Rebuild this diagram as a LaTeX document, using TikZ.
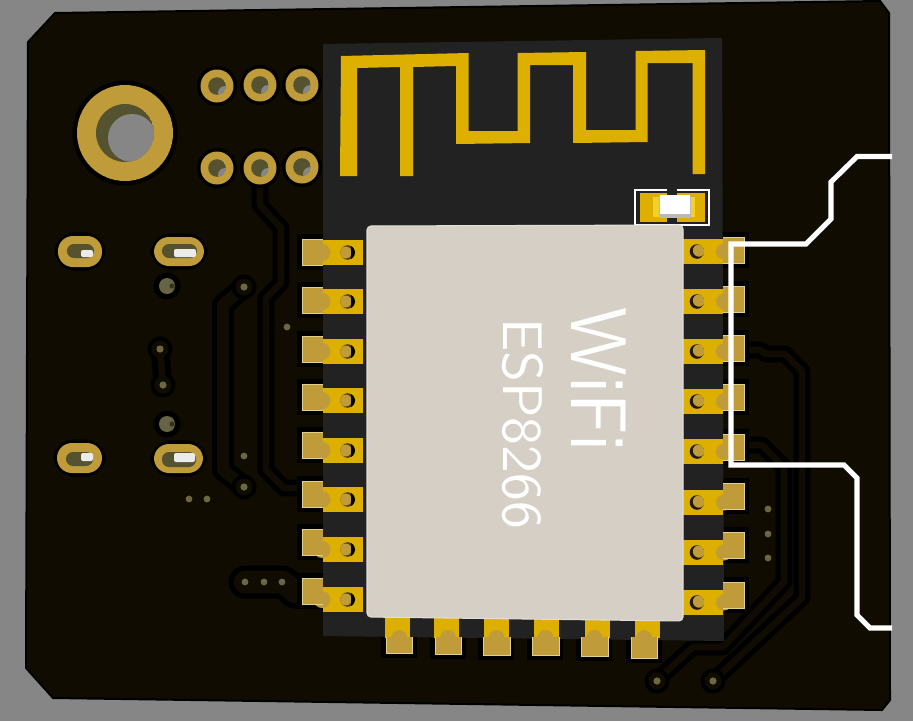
\documentclass[tikz,border=0pt]{standalone}
\usepackage{graphicx}
\definecolor{bgc}{HTML}{868686}
\definecolor{boardc}{HTML}{100C02}
\definecolor{modc}{HTML}{222222}
\definecolor{goldc}{HTML}{BF9B3A}
\definecolor{padedge}{HTML}{E0D090}
\definecolor{yelc}{HTML}{DDB000}
\definecolor{brightyel}{HTML}{F5CE2A}
\definecolor{olivec}{HTML}{55532F}
\definecolor{viac}{HTML}{6B6840}
\definecolor{shieldc}{HTML}{D6CFC6}
\definecolor{darkh}{HTML}{4F3D0C}
\tikzset{
  trc/.style={draw=black,line width=3.75pt,double=boardc,double distance=5pt,line join=round},
  fattrc/.style={draw=black,line width=3.75pt,double=boardc,double distance=9pt,line join=round},
  whitetrack/.style={draw=white,line width=3.8pt,line join=miter},
  padline/.style={draw=padedge,line width=.5pt},
}
% small via with clearance ring
\newcommand{\tinyvia}[2]{\fill[viac] (#1,#2) circle[radius=3.4];}
\newcommand{\ringvia}[2]{\fill[black] (#1,#2) circle[radius=12.5];\fill[boardc] (#1,#2) circle[radius=8.5];\fill[viac] (#1,#2) circle[radius=3.6];}
\newcommand{\bigvia}[2]{\fill[black] (#1,#2) circle[radius=13.5];\fill[olivec!90!white] (#1,#2) circle[radius=8];\fill[black!40!olivec] (#1+5,#2) circle[radius=2.6];}
\newcommand{\thpad}[2]{%
  \fill[black] (#1,#2) circle[radius=20];
  \fill[goldc] (#1,#2) circle[radius=16.5];
  \begin{scope}\clip (#1,#2) circle[radius=8.8];
    \fill[olivec] (#1,#2) circle[radius=8.8];
    \fill[bgc] (#1+8,#2+7) circle[radius=7];
  \end{scope}}
\newcommand{\slotpad}[4]{%
  \draw[black,line width=5.5pt,fill=black,rounded corners=13pt] (#1,#3) rectangle (#2,#4);
  \fill[goldc,rounded corners=11.2pt] (#1,#3) rectangle (#2,#4);}
\newcommand{\slothole}[8]{%
  \fill[olivec,rounded corners=5.2pt] (#1,#3) rectangle (#2,#4);
  \fill[white!92!black,rounded corners=1.5pt] (#5,#7) rectangle (#6,#8);}
\newcommand{\lefthole}[2]{%
  \begin{scope}\clip (#1,#2) circle[radius=7.3];
    \fill[darkh] (#1,#2) circle[radius=7.3];
    \fill[goldc] (#1-2,#2) circle[radius=6];
    \fill[black] (#1+3.6,#2-8) rectangle (#1+8,#2+8);
  \end{scope}}
\newcommand{\righthole}[2]{%
  \begin{scope}\clip (#1,#2) circle[radius=7.3];
    \fill[black!60!darkh] (#1,#2) circle[radius=7.3];
    \fill[goldc] (#1+2,#2-1) circle[radius=6.2];
  \end{scope}}
\begin{document}
\begin{tikzpicture}[x=.75pt,y=-.75pt]
\useasboundingbox (0,0) rectangle (913,721);
\fill[bgc] (0,0) rectangle (913,721);
\begin{scope}
\clip (0,0) rectangle (913,721);
% board
\filldraw[fill=boardc,draw=black,line width=1.5pt,line join=round]
  (55,13) -- (880,1) -- (889,13) -- (890,700) -- (882,710) -- (53,698) -- (26,668) -- (28,42) -- cycle;

% traces
\draw[trc] (260,170) -- (260,205) -- (281,228) -- (281,283) -- (266,298) -- (266,470) -- (284,488) -- (308,488);
\draw[fattrc] (244,287) -- (223,305) -- (223,470) -- (244,487);
\draw[draw=black,line width=24.75pt,line cap=round,line join=round] (245,582) -- (283,582) -- (295,592) -- (308,592);
\draw[draw=boardc,line width=17pt,line cap=round,line join=round] (245,582) -- (283,582) -- (295,592) -- (308,592);
\draw[trc] (745,350) -- (760,350) -- (766,354) -- (785,354) -- (802,371) -- (802,598) -- (713,681);
\draw[trc] (745,445) -- (762,445) -- (784,467) -- (784,582) -- (723,647) -- (693,647) -- (657,680);

% vias
\ringvia{244}{287}
\ringvia{244}{487}
\ringvia{160}{349}
\ringvia{163}{385}
\draw[black,line width=14pt] (160,349) -- (163,385);
\draw[boardc,line width=5pt] (160,349) -- (163,385);
\fill[boardc] (160,349) circle[radius=8.5];
\fill[boardc] (163,385) circle[radius=8.5];
\fill[viac] (160,349) circle[radius=3.6];
\fill[viac] (163,385) circle[radius=3.6];
\ringvia{657}{681}
\ringvia{713}{681}
\bigvia{167}{286}
\bigvia{167}{424}
\tinyvia{287}{327}
\tinyvia{244}{456}
\tinyvia{189}{499}
\tinyvia{207}{499}
\tinyvia{245}{582}
\tinyvia{264}{582}
\tinyvia{282}{582}
\tinyvia{768}{509}
\tinyvia{768}{534}
\tinyvia{768}{558}

% through-hole pads
\fill[black] (125,133) circle[radius=52.5];
\fill[goldc] (125,133) circle[radius=48];
\begin{scope}
  \clip (125,133) circle[radius=29];
  \fill[olivec] (125,133) circle[radius=29];
  \fill[bgc] (132,138) circle[radius=24];
\end{scope}
\thpad{217}{86}\thpad{260}{85}\thpad{302}{85}
\thpad{217}{168}\thpad{260}{168}\thpad{302}{167}

% slots
\slotpad{58}{102}{236}{267}
\slothole{67}{94}{244}{258}{81}{93}{250}{257}
\slotpad{154}{204}{237}{266}
\slothole{162}{197}{244}{258}{174}{196}{249}{257}
\slotpad{57}{102}{443}{473}
\slothole{66}{93}{452}{466}{81}{93}{453}{461}
\slotpad{154}{203}{444}{473}
\slothole{162}{196}{452}{467}{174}{195}{453}{462}

% pad clearance
\foreach \t in {239,287,336,384,432,481,529,578}
  {\fill[black] (297,\t-5) rectangle (330,\t+31);}
\foreach \t in {237,286,335,384,434,483,532,582}
  {\fill[black] (716,\t-5) rectangle (749,\t+31);}
\foreach \l/\b in {386/653,435/654,483/655,532/655,581/656,631/658}
  {\fill[black] (\l-5,630) rectangle (\l+31,\b+5);}

% module
\fill[modc] (323,44) -- (722,38) -- (724,641) -- (323,636) -- cycle;

% antenna
\fill[yelc] (341,56) -- (340,176) -- (357,176) -- (357,68) -- (400,67) -- (400,176) -- (413,176) -- (413,67)
  -- (456,66) -- (456,144) -- (530,143) -- (530,65) -- (573,65) -- (573,143) -- (647.5,142) -- (647.5,63)
  -- (692.5,63) -- (692.5,174) -- (705,174) -- (705,50) -- (635.5,51) -- (635.5,130) -- (586,130) -- (586,52)
  -- (517.5,53) -- (517.5,131) -- (468.6,131) -- (468.6,53) -- cycle;

% LED
\draw[white,line width=1.5pt] (667,189.5) -- (635,189.5) -- (635,225) -- (709,225) -- (709,189.5) -- (677,189.5);
\fill[yelc] (640,193) rectangle (667,222);
\fill[yelc] (677,193) rectangle (705,222);
\fill[brightyel] (653,197) rectangle (659,217);
\fill[brightyel] (691,197) rectangle (695,217);
\fill[gray!55] (659,196) rectangle (691,218);
\fill[white] (660,195) rectangle (690,214);

% left strips
\foreach \t in {240,289,339,388,438,487,537,587}
  {\fill[yelc] (323,\t) rectangle (363,\t+25);}
% left gold pads
\foreach \t/\c in {239/252.5,287/301.5,336/351.5,384/400.5,432/450.5,481/499.5,529/549.5,578/599.5}{
  \fill[goldc] (322,\c) circle[radius=8.5];
  \fill[goldc] (302,\t) rectangle (323,\t+26);
  \draw[padline] (323,\t) -- (302,\t) -- (302,\t+26) -- (323,\t+26);
}
\foreach \c in {252.5,301.5,351.5,400.5,450.5,499.5,549.5,599.5}
  {\lefthole{347.7}{\c}}

% right strips
\foreach \t in {239,289,339,389,439,490,540,590}
  {\fill[yelc] (683,\t) rectangle (723,\t+25);}
\foreach \t/\c in {237/251.5,286/301.5,335/351.5,384/401.5,434/451.5,483/502.5,532/552.5,582/602.5}{
  \fill[goldc] (724,\c) circle[radius=8];
  \fill[goldc] (723,\t) rectangle (744,\t+26);
  \draw[padline] (723,\t) -- (744,\t) -- (744,\t+26) -- (723,\t+26);
}
\foreach \c in {251.5,301.5,351.5,401.5,451.5,502.5,552.5,602.5}
  {\righthole{697}{\c}}

% bottom pads
\foreach \l in {385,434,484,534,585,635}
  {\fill[yelc] (\l,615) rectangle (\l+24.5,638);}
\foreach \l/\b/\r in {386/653/412,435/654/461,483/655/510,532/655/559,581/656/608,631/658/657}{
  \fill[goldc] ({(\l+\r)/2},638) circle[radius=8];
  \fill[goldc] (\l,637) rectangle (\r,\b);
  \draw[padline] (\l,637) -- (\l,\b) -- (\r,\b) -- (\r,637);
}

% shield
\filldraw[fill=shieldc,draw=shieldc!70!white,line width=.8pt,rounded corners=3pt]
  (367,226) -- (683,225) -- (683,621) -- (367,617) -- cycle;
\node[white,rotate=-90,inner sep=0pt] (wifi) at (598.5,380)
  {\resizebox{108.5pt}{41pt}{\sffamily WiFi}};
\node[white,rotate=-90,inner sep=0pt] (esp) at (523,423.5)
  {\resizebox{158pt}{30pt}{\sffamily ESP8266}};

% keep-out track
\draw[whitetrack] (892,156.5) -- (857,156.5) -- (831,182) -- (831,219) -- (806,244) -- (731,244) -- (731,465)
  -- (844,465) -- (857,478) -- (857,615) -- (870,628) -- (892,628);
\end{scope}
\end{tikzpicture}
\end{document}
